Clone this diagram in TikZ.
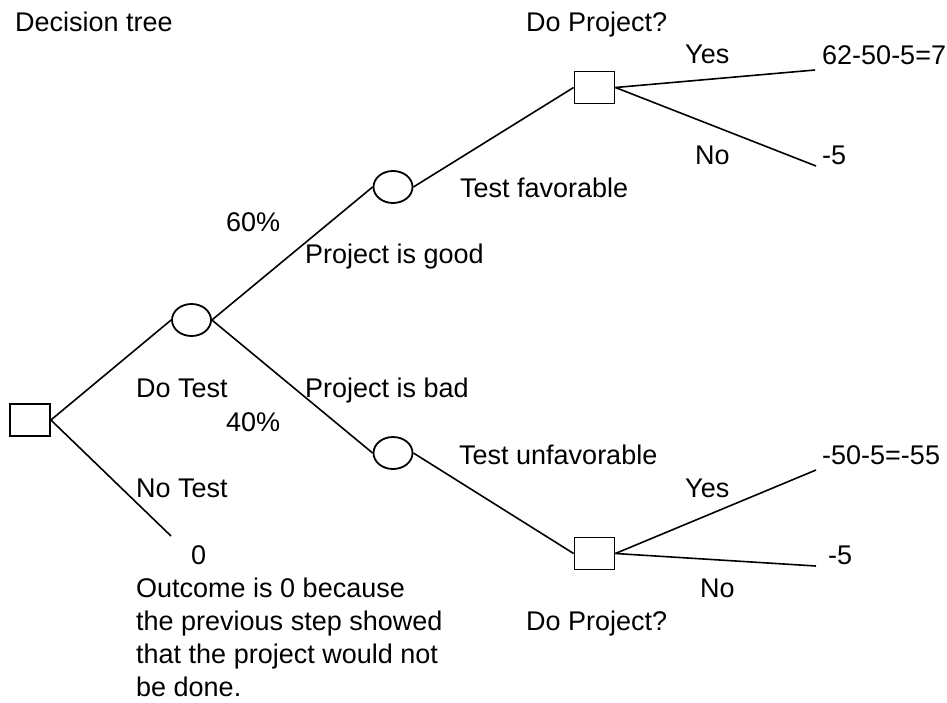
\documentclass[tikz,border=0pt]{standalone}
\usepackage{fontspec}
\setmainfont{Liberation Sans}
\usetikzlibrary{shapes.geometric}
\begin{document}
\begin{tikzpicture}[x=1pt,y=-1pt,
  lbl/.style={anchor=base west,inner sep=0pt,font=\fontsize{27pt}{33.3pt}\selectfont},
  decbox/.style={draw,line width=1.8pt,rectangle,minimum width=40pt,minimum height=32pt,inner sep=0pt},
  chance/.style={draw,line width=1.8pt,ellipse,minimum width=39pt,minimum height=32pt,inner sep=0pt},
  edge/.style={line width=1.6pt}]
\useasboundingbox (0,0) rectangle (947,702);
% shapes
\node[decbox] (root) at (30,420) {};
\node[chance] (test) at (191.5,320) {};
\node[chance] (good) at (393,187) {};
\node[chance] (bad) at (393,453) {};
\node[decbox] (dpu) at (594.5,87.5) {};
\node[decbox] (dpl) at (594.5,553.5) {};
% free ends
\coordinate (notest) at (171,536);
\coordinate (yesu) at (815,70);
\coordinate (nou) at (816,166);
\coordinate (yesl) at (816,470);
\coordinate (nol) at (816,566);
% connectors
\draw[edge] (root.east) -- (test.west);
\draw[edge] (root.east) -- (notest);
\draw[edge] (test.east) -- (good.west);
\draw[edge] (test.east) -- (bad.west);
\draw[edge] (good.east) -- (dpu.west);
\draw[edge] (bad.east) -- (dpl.west);
\draw[edge] (dpu.east) -- (yesu);
\draw[edge] (dpu.east) -- (nou);
\draw[edge] (dpl.east) -- (yesl);
\draw[edge] (dpl.east) -- (nol);
% labels
\node[lbl] (title) at (15,31) {Decision tree};
\node[lbl] (dpt1) at (526,31) {Do Project?};
\node[lbl] (yes1) at (685,63) {Yes};
\node[lbl] (out1) at (822,64) {62-50-5=7};
\node[lbl] (no1) at (695,164) {No};
\node[lbl] (out2) at (822,164) {-5};
\node[lbl] (tfav) at (460,197) {Test favorable};
\node[lbl] (p60) at (226,231) {60\%};
\node[lbl] (pgood) at (305,263) {Project is good};
\node[lbl] (dotest) at (136,397) {Do Test};
\node[lbl] (pbad) at (305,397) {Project is bad};
\node[lbl] (p40) at (226,431) {40\%};
\node[lbl] (tunf) at (459,464) {Test unfavorable};
\node[lbl] (out3) at (822,464) {-50-5=-55};
\node[lbl] (yes2) at (685,497) {Yes};
\node[lbl] (notestl) at (136,497) {No Test};
\node[lbl] (zero) at (191,564) {0};
\node[lbl] (out4) at (828,564) {-5};
\node[lbl] (c1) at (136,597) {Outcome is 0 because};
\node[lbl] (no2) at (700,597) {No};
\node[lbl] (c2) at (136,630) {the previous step showed};
\node[lbl] (dpt2) at (526,630) {Do Project?};
\node[lbl] (c3) at (136,663) {that the project would not};
\node[lbl] (c4) at (136,696) {be done.};
\end{tikzpicture}
\end{document}
